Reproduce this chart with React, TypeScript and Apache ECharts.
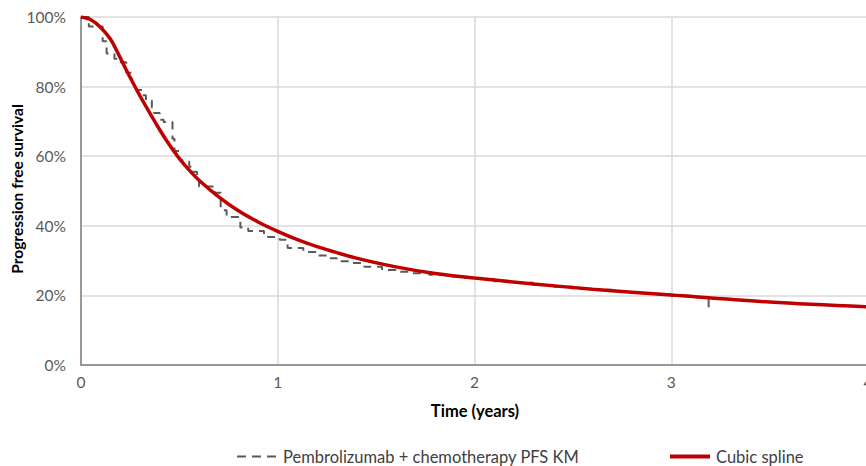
import React, { useEffect, useRef } from "react";
import * as echarts from "echarts";

const kmTime = [0, 0.04, 0.11, 0.13, 0.17, 0.19, 0.23, 0.26, 0.28, 0.31, 0.33, 0.36, 0.37, 0.4, 0.42, 0.465, 0.475, 0.5, 0.515, 0.55, 0.57, 0.59, 0.6, 0.68, 0.71, 0.74, 0.81, 0.85, 0.93, 0.95, 1.01, 1.05, 1.13, 1.2, 1.25, 1.3, 1.37, 1.44, 1.53, 1.6, 1.68, 1.77, 1.86, 1.95, 2.0, 2.1, 2.2, 2.3, 2.4, 2.5, 2.6, 2.7, 2.8, 2.9, 3.0, 3.1, 3.19];
const kmSurv = [100, 97.3, 93, 89.5, 88, 87, 84, 81, 79, 77.5, 76, 74, 72.4, 70.5, 69.8, 65, 61.5, 59, 58.5, 57, 55.5, 53.5, 51.3, 49.5, 44.5, 42.5, 39.5, 38.5, 37.5, 36.8, 36, 33.6, 32.5, 31.5, 30.7, 29.8, 29.3, 28.2, 27.3, 26.8, 26.4, 25.9, 25.4, 25.1, 24.7, 24.1, 23.6, 23.0, 22.5, 22.0, 21.6, 21.2, 20.7, 20.3, 19.9, 19.5, 15.2];

const splineTime = [0, 0.05, 0.1, 0.15, 0.2, 0.25, 0.3, 0.35, 0.4, 0.45, 0.5, 0.55, 0.6, 0.7, 0.8, 0.9, 1.0, 1.1, 1.2, 1.4, 1.6, 1.8, 2.0, 2.3, 2.6, 3.0, 3.5, 4.0];
const splineSurv = [100, 99.2, 97, 93.6, 88.2, 82.6, 77.3, 72.4, 67.6, 63.2, 59.3, 56.0, 53.1, 48.3, 44.3, 41.1, 38.4, 36.0, 34.0, 30.7, 28.2, 26.3, 25, 23.3, 21.8, 20.1, 18.1, 16.7];

const xTicks = [0, 1, 2, 3, 4];
const yTicks = [0, 20, 40, 60, 80, 100];

const kmName = "Pembrolizumab + chemotherapy PFS KM";
const splineName = "Cubic spline";
const xTitle = "Time (years)";
const yTitle = "Progression free survival";

const FONT = "Lato, 'Open Sans', sans-serif";

const legendBase = {
  top: 443,
  itemWidth: 40,
  itemHeight: 14,
  itemGap: 0,
  itemStyle: { opacity: 0 },
  textStyle: { color: "#404040", fontSize: 16.5, fontFamily: FONT, padding: [0, 0, 0, 1] },
};

export default function App() {
  const ref = useRef<HTMLDivElement>(null);
  useEffect(() => {
    if (!ref.current) return;
    const chart = echarts.init(ref.current, undefined, { renderer: "svg" });
    chart.setOption({
      animation: false,
      textStyle: { fontFamily: FONT },
      grid: { left: 81, top: 17, right: -2, bottom: 101, containLabel: false, outerBoundsMode: "none" },
      xAxis: {
        type: "value",
        min: xTicks[0],
        max: xTicks[xTicks.length - 1],
        interval: 1,
        axisLine: { show: true, lineStyle: { color: "#7f7f7f", width: 1.5 } },
        axisTick: { show: false },
        axisLabel: { color: "#595959", fontSize: 15.5, margin: 9, fontFamily: FONT },
        splitLine: { show: true, lineStyle: { color: "#d9d9d9", width: 1.5 } },
      },
      yAxis: {
        type: "value",
        min: yTicks[0],
        max: yTicks[yTicks.length - 1],
        interval: 20,
        axisLine: { show: true, lineStyle: { color: "#7f7f7f", width: 1.5 } },
        axisTick: { show: false },
        axisLabel: { color: "#595959", fontSize: 15.5, margin: 15, formatter: "{value}%", fontFamily: FONT },
        splitLine: { show: true, lineStyle: { color: "#d9d9d9", width: 1.5 } },
      },
      legend: [
        { ...legendBase, left: 231, data: [kmName], lineStyle: { width: 2, type: [9, 6] } },
        { ...legendBase, left: 663, data: [splineName], lineStyle: { width: 4 } },
      ],
      graphic: [
        {
          type: "text",
          x: 475,
          y: 411,
          style: { text: xTitle, fill: "#000", font: `bold 16.5px ${FONT}`, align: "center", verticalAlign: "middle" },
        },
        {
          type: "text",
          x: 17,
          y: 189,
          rotation: Math.PI / 2,
          style: { text: yTitle, fill: "#000", font: `bold 15.5px ${FONT}`, align: "center", verticalAlign: "middle" },
        },
      ],
      series: [
        {
          name: kmName,
          type: "line",
          step: "end",
          symbol: "none",
          data: kmTime.map((t, i) => [t, kmSurv[i]]),
          lineStyle: { color: "#595959", width: 2, type: [8, 6] },
          itemStyle: { color: "#595959" },
          z: 2,
        },
        {
          name: splineName,
          type: "line",
          smooth: 0.35,
          symbol: "none",
          data: splineTime.map((t, i) => [t, splineSurv[i]]),
          lineStyle: { color: "#c00000", width: 3.5 },
          itemStyle: { color: "#c00000" },
          z: 3,
        },
      ],
    });
    return () => chart.dispose();
  }, []);
  return <div ref={ref} style={{ width: 866, height: 466, position: "absolute", left: 0, top: 0 }} />;
}
